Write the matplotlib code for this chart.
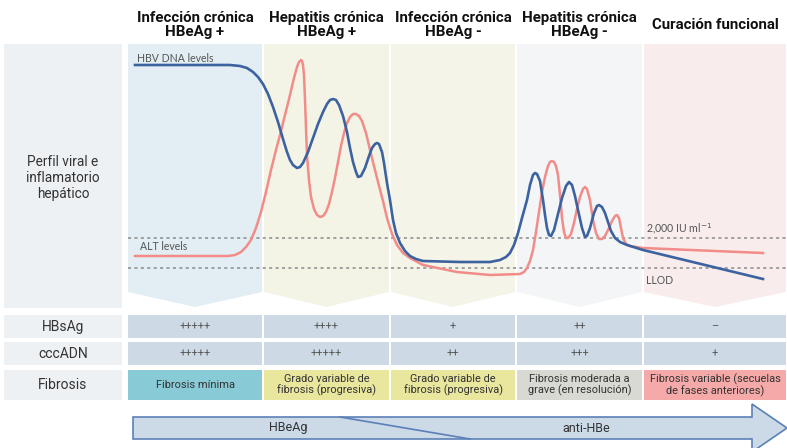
import matplotlib
matplotlib.use("Agg")
import matplotlib.pyplot as plt
from matplotlib.patches import Polygon, Rectangle

# ---------------- data ----------------
phases = ["Infección crónica\nHBeAg +", "Hepatitis crónica\nHBeAg +",
          "Infección crónica\nHBeAg -", "Hepatitis crónica\nHBeAg -",
          "Curación funcional"]
hbsag = ["+++++", "++++", "+", "++", "–"]
cccdna = ["+++++", "+++++", "++", "+++", "+"]
fibrosis = ["Fibrosis mínima", "Grado variable de\nfibrosis (progresiva)",
            "Grado variable de\nfibrosis (progresiva)",
            "Fibrosis moderada a\ngrave (en resolución)",
            "Fibrosis variable (secuelas\nde fases anteriores)"]
row_labels = ["HBsAg", "cccADN", "Fibrosis"]

# schematic curves (x: time, y: level, in image scale units; smaller y = higher level)
hbv_x = [135, 230, 240, 247, 253, 258, 263, 268, 273, 278, 283, 287, 290, 293, 297, 300,
         303, 308, 313, 318, 323, 327, 330, 333, 336, 339, 343, 347, 350, 353, 356, 358,
         361, 365, 369, 372, 375, 377, 379, 382, 384, 387, 390, 393, 396, 400, 405, 410,
         416, 423, 460, 490, 500, 506, 510, 514, 518, 522, 527, 530, 533, 535, 537, 540,
         543, 545, 547, 549, 551, 554, 558, 562, 566, 569, 572, 575, 578, 582, 585, 587,
         590, 594, 597, 599, 602, 605, 608, 611, 615, 620, 627, 643, 763]
hbv_y = [65, 65, 66, 68, 72, 77, 84, 94, 107, 122, 139, 152, 160, 165, 168, 167,
         163, 152, 138, 124, 112, 104, 100, 99, 100, 105, 116, 132, 148, 162, 172, 177,
         176, 168, 156, 148, 144, 143, 144, 152, 163, 183, 200, 220, 233, 243, 251, 256,
         259, 261, 262, 262, 260, 257, 253, 245, 233, 218, 200, 185, 175, 173, 174, 181,
         200, 215, 228, 235, 236, 230, 214, 198, 186, 182, 185, 196, 210, 228, 237, 236,
         228, 213, 206, 205, 207, 213, 222, 231, 238, 242, 245, 250, 279]
alt_x = [135, 228, 235, 241, 246, 251, 256, 261, 266, 271, 276, 280, 285, 290, 294, 297,
         299, 301, 302, 303, 304, 305, 306, 307, 309, 311, 314, 317, 320, 323, 326, 329,
         332, 335, 338, 341, 344, 347, 350, 353, 356, 359, 362, 366, 370, 374, 378, 383,
         387, 392, 397, 403, 410, 423, 457, 490, 520, 524, 527, 530, 533, 536, 539, 542,
         545, 548, 550, 552, 554, 556, 558, 560, 562, 564, 566, 568, 571, 574, 577, 580,
         583, 585, 587, 590, 593, 596, 599, 602, 605, 609, 612, 615, 617, 619, 621, 623,
         626, 630, 643, 763]
alt_y = [256, 256, 255, 252, 247, 240, 228, 212, 192, 170, 150, 135, 115, 95, 78, 67,
         62, 60, 61, 65, 75, 100, 128, 155, 180, 197, 209, 215, 217, 216, 212, 204,
         192, 178, 162, 146, 133, 123, 117, 114, 114, 116, 121, 133, 150, 166, 182, 201,
         218, 234, 245, 253, 258, 265, 272, 275, 274, 272, 268, 261, 250, 232, 212, 192,
         177, 166, 162, 161, 162, 166, 175, 195, 218, 232, 238, 238, 234, 223, 209, 197,
         189, 187, 189, 200, 220, 233, 239, 239, 236, 228, 221, 216, 215, 218, 228, 238,
         244, 246, 248, 253]
thr_2000 = 238
llod = 268

# ---------------- style ----------------
W, H = 787, 448
col_bounds = [(128, 262), (264, 389), (391, 515), (517, 642), (644, 786)]
panel_colors = ["#e2eef3", "#f4f4e6", "#f4f4e9", "#f3f5f6", "#f8ecec"]
fib_colors = ["#88cad6", "#e9e69e", "#e9e69e", "#d9d9d3", "#f5aaa9"]
cell_color = "#cdd9e4"
label_bg = "#eef1f4"
blue = "#3c62a0"
red = "#f28c88"

plt.rcParams['font.family'] = ['Roboto', 'DejaVu Sans']
fig = plt.figure(figsize=(7.87, 4.48), dpi=100)
ax = fig.add_axes([0, 0, 1, 1])
ax.set_xlim(0, W)
ax.set_ylim(H, 0)
ax.axis('off')

# left label box
ax.add_patch(Rectangle((4, 44), 118, 264, facecolor=label_bg, edgecolor='none'))
ax.text(63, 178, "Perfil viral e\ninflamatorio\nhepático", ha='center', va='center',
        fontsize=9.8, color='#333333', linespacing=1.2)

# phase panels with chevron bottoms
for (x0, x1), c, title in zip(col_bounds, panel_colors, phases):
    cx = (x0 + x1) / 2
    poly = Polygon([(x0, 44), (x1, 44), (x1, 292), (cx, 307), (x0, 292)],
                   closed=True, facecolor=c, edgecolor='none', zorder=1)
    ax.add_patch(poly)
    ax.text(cx, 25, title, ha='center', va='center', fontsize=10.8,
            fontweight='bold', color='#111111', linespacing=1.05)

# threshold dotted lines
for yv in (thr_2000, llod):
    ax.plot([128, 787], [yv, yv], color='#8a8a8a', lw=1.1,
            linestyle=(0, (2, 2.2)), zorder=2)

# curves
ax.plot(alt_x, alt_y, color=red, lw=1.8, zorder=3, solid_joinstyle='round')
ax.plot(hbv_x, hbv_y, color=blue, lw=1.9, zorder=4, solid_joinstyle='round')

small = dict(fontsize=7.6, color='#555555', family=['Lato', 'DejaVu Sans'])
ax.text(137, 58, "HBV DNA levels", ha='left', va='center', **small)
ax.text(140, 247, "ALT levels", ha='left', va='center', **small)
ax.text(646, 229, "2,000 IU ml$^{-1}$", ha='left', va='center', **small)
ax.text(646, 281, "LLOD", ha='left', va='center', **small)

# table
rows_y = [(315, 338), (342, 365), (370, 400)]
for (y0, y1), lab in zip(rows_y, row_labels):
    ax.add_patch(Rectangle((4, y0), 118, y1 - y0, facecolor=label_bg, edgecolor='none'))
    ax.text(63, (y0 + y1) / 2, lab, ha='center', va='center', fontsize=10, color='#333333')

for i, (x0, x1) in enumerate(col_bounds):
    cx = (x0 + x1) / 2
    for r, vals in enumerate([hbsag, cccdna]):
        y0, y1 = rows_y[r]
        ax.add_patch(Rectangle((x0, y0), x1 - x0, y1 - y0, facecolor=cell_color,
                               edgecolor='none'))
        ax.text(cx, (y0 + y1) / 2, vals[i], ha='center', va='center',
                fontsize=8, color='#555555')
    y0, y1 = rows_y[2]
    ax.add_patch(Rectangle((x0, y0), x1 - x0, y1 - y0, facecolor=fib_colors[i],
                           edgecolor='none'))
    ax.text(cx, (y0 + y1) / 2, fibrosis[i], ha='center', va='center',
            fontsize=7.9, color='#333333', linespacing=1.1)

# bottom arrow
arrow = Polygon([(133, 417), (752, 417), (752, 404), (787, 428), (752, 452),
                 (752, 439), (133, 439)], closed=True, facecolor='#ccd9e6',
                edgecolor='#5b80b8', lw=1.2, zorder=5)
ax.add_patch(arrow)
ax.plot([340, 470], [417, 439], color='#5b80b8', lw=1.2, zorder=6)
ax.text(288, 428, "HBeAg", ha='center', va='center', fontsize=9, color='#333333', zorder=7)
ax.text(586, 428, "anti-HBe", ha='center', va='center', fontsize=9, color='#333333', zorder=7)

fig.savefig("out.png", dpi=100)
